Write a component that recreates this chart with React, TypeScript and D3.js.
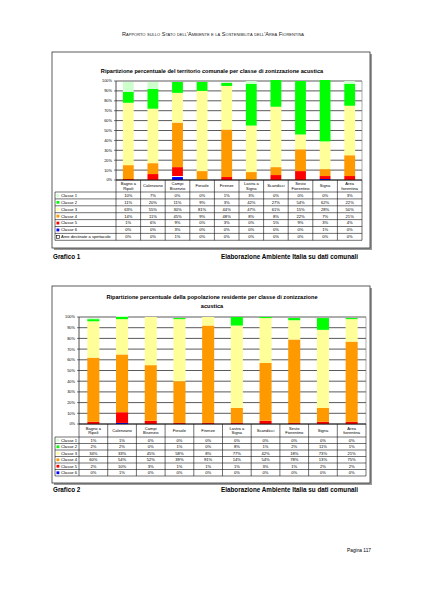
import { useRef, useEffect } from "react";
import * as d3 from "d3";

// chart 1: territory share per acoustic class
const categories = [
    ["Bagno a", "Ripoli"], ["Calenzano"], ["Campi", "Bisenzio"], ["Fiesole"], ["Firenze"],
    ["Lastra a", "Signa"], ["Scandicci"], ["Sesto", "Fiorentino"], ["Signa"], ["Area", "fiorentina"]
];

const seriesNames1 = ["Classe 1", "Classe 2", "Classe 3", "Classe 4", "Classe 5", "Classe 6", "Aree destinate a spettacolo"];
const territorio: number[][] = [
    [10, 7, 0, 0, 1, 3, 0, 0, 0, 3],
    [11, 20, 11, 9, 3, 42, 27, 54, 62, 22],
    [63, 55, 30, 81, 44, 47, 61, 15, 28, 50],
    [14, 11, 45, 9, 48, 8, 8, 22, 7, 21],
    [1, 6, 9, 0, 3, 0, 5, 9, 3, 4],
    [0, 0, 3, 0, 0, 0, 0, 0, 1, 0],
    [0, 0, 1, 0, 0, 0, 0, 0, 0, 0]
];

// chart 2: resident population share per acoustic class
const seriesNames2 = ["Classe 1", "Classe 2", "Classe 3", "Classe 4", "Classe 5", "Classe 6"];
const popolazione: number[][] = [
    [1, 1, 0, 0, 0, 0, 0, 0, 0, 0],
    [2, 2, 0, 1, 0, 8, 1, 2, 11, 1],
    [34, 33, 45, 58, 8, 77, 42, 18, 73, 21],
    [60, 54, 52, 39, 91, 14, 54, 78, 13, 75],
    [2, 10, 3, 1, 1, 1, 3, 1, 2, 2],
    [0, 1, 0, 0, 0, 0, 0, 0, 0, 0]
];

const yTicks = [0, 10, 20, 30, 40, 50, 60, 70, 80, 90, 100];

const classColors: Record<string, string> = {
    "Classe 1": "#ccffcc",
    "Classe 2": "#00ff00",
    "Classe 3": "#ffff99",
    "Classe 4": "#ff9900",
    "Classe 5": "#ff0000",
    "Classe 6": "#0000ff",
    "Aree destinate a spettacolo": "#ffffff"
};

// bottom-to-top stacking order
const stackOrder = ["Classe 6", "Aree destinate a spettacolo", "Classe 5", "Classe 4", "Classe 3", "Classe 2", "Classe 1"];

const FONT = "'Liberation Sans', Arial, sans-serif";

type Layout = {
    box: [number, number, number, number];
    titleLines: string[];
    titleY: number;
    plot: { left: number, right: number, top: number, bottom: number };
    tableLeft: number;
    headerBottom: number;
    rowH: number;
    barRatio: number;
    caption: string;
    captionY: number;
};

function drawChart(
    root: d3.Selection<SVGGElement, unknown, null, undefined>,
    names: string[],
    values: number[][],
    L: Layout
) {
    const [bx, by, bw, bh] = L.box;
    // drop shadow + frame
    root.append("rect").attr("x", bx + 2).attr("y", by + 2).attr("width", bw).attr("height", bh).attr("fill", "#9a9a9a");
    root.append("rect").attr("x", bx).attr("y", by).attr("width", bw).attr("height", bh)
        .attr("fill", "#fff").attr("stroke", "#333").attr("stroke-width", 0.8);

    root.append("g").selectAll("text").data(L.titleLines).join("text")
        .attr("x", bx + bw / 2 + 1)
        .attr("y", (d, i) => L.titleY + i * 9)
        .attr("text-anchor", "middle")
        .attr("font-family", FONT)
        .attr("font-weight", "bold")
        .attr("font-size", 5.6)
        .text(d => d);

    const { left, right, top, bottom } = L.plot;
    const x = d3.scaleBand<number>().domain(d3.range(categories.length)).range([left, right]);
    const y = d3.scaleLinear().domain([0, 100]).range([bottom, top]);
    const bw2 = x.bandwidth() * L.barRatio;

    // gridlines
    root.append("g").selectAll("line").data(yTicks).join("line")
        .attr("x1", left).attr("x2", right)
        .attr("y1", d => y(d)).attr("y2", d => y(d))
        .attr("stroke", "#5a5a5a").attr("stroke-width", 1);

    // stacked bars
    const rows = d3.range(categories.length).map(i => {
        const r: Record<string, number> = {};
        names.forEach((n, k) => { r[n] = values[k][i]; });
        return r;
    });
    const keys = stackOrder.filter(k => names.includes(k));
    const stacked = d3.stack<Record<string, number>>().keys(keys)(rows);

    root.append("g").selectAll("g").data(stacked).join("g")
        .attr("fill", s => classColors[s.key])
        .selectAll("rect").data(s => s).join("rect")
        .attr("x", (d, i) => (x(i) as number) + (x.bandwidth() - bw2) / 2)
        .attr("width", bw2)
        .attr("y", d => y(d[1]))
        .attr("height", d => Math.max(0, y(d[0]) - y(d[1])));

    // y axis
    root.append("line").attr("x1", left).attr("x2", left).attr("y1", top).attr("y2", bottom)
        .attr("stroke", "#222").attr("stroke-width", 0.8);
    root.append("line").attr("x1", right).attr("x2", right).attr("y1", top).attr("y2", bottom)
        .attr("stroke", "#777").attr("stroke-width", 0.6);
    const ay = root.append("g");
    ay.selectAll("line").data(yTicks).join("line")
        .attr("x1", left - 2).attr("x2", left)
        .attr("y1", d => y(d)).attr("y2", d => y(d))
        .attr("stroke", "#222").attr("stroke-width", 0.6);
    ay.selectAll("text").data(yTicks).join("text")
        .attr("x", left - 4).attr("y", d => y(d) + 1.4)
        .attr("text-anchor", "end")
        .attr("font-family", FONT).attr("font-size", 3.9)
        .text(d => d + "%");

    // data table
    const tb = root.append("g").attr("font-family", FONT).attr("font-size", 4.1);
    const tableBottom = L.headerBottom + names.length * L.rowH;
    const stroke = "#111";
    // header row
    tb.append("line").attr("x1", left).attr("x2", right).attr("y1", bottom).attr("y2", bottom)
        .attr("stroke", stroke).attr("stroke-width", 0.8);
    d3.range(categories.length + 1).forEach(i => {
        const xx = i === categories.length ? right : (x(i) as number);
        tb.append("line").attr("x1", xx).attr("x2", xx).attr("y1", bottom).attr("y2", tableBottom)
            .attr("stroke", stroke).attr("stroke-width", 0.6);
    });
    tb.append("line").attr("x1", L.tableLeft).attr("x2", L.tableLeft).attr("y1", L.headerBottom).attr("y2", tableBottom)
        .attr("stroke", stroke).attr("stroke-width", 0.6);
    d3.range(names.length + 1).forEach(k => {
        const yy = L.headerBottom + k * L.rowH;
        tb.append("line").attr("x1", L.tableLeft).attr("x2", right).attr("y1", yy).attr("y2", yy)
            .attr("stroke", stroke).attr("stroke-width", 0.6);
    });
    categories.forEach((lines, i) => {
        const cx = (x(i) as number) + x.bandwidth() / 2;
        const mid = (bottom + L.headerBottom) / 2;
        lines.forEach((t, j) => {
            tb.append("text").attr("x", cx)
                .attr("y", mid + 1.4 + (j - (lines.length - 1) / 2) * 4.4)
                .attr("text-anchor", "middle").text(t);
        });
    });
    names.forEach((n, k) => {
        const yy = L.headerBottom + k * L.rowH;
        const isAree = n.startsWith("Aree");
        tb.append("rect").attr("x", L.tableLeft + 1.5).attr("y", yy + L.rowH / 2 - 1.4)
            .attr("width", 2.8).attr("height", 2.8)
            .attr("fill", classColors[n])
            .attr("stroke", isAree ? "#000" : "none").attr("stroke-width", 0.6);
        tb.append("text").attr("x", L.tableLeft + 6).attr("y", yy + L.rowH / 2 + 1.4).text(n);
        values[k].forEach((v, i) => {
            tb.append("text").attr("x", (x(i) as number) + x.bandwidth() / 2)
                .attr("y", yy + L.rowH / 2 + 1.4)
                .attr("text-anchor", "middle").text(v + "%");
        });
    });

    // captions under the frame
    const cap = root.append("g").attr("font-family", FONT).attr("font-weight", "bold").attr("font-size", 6.3);
    cap.append("text").attr("x", bx + 1).attr("y", L.captionY).text(L.caption);
    cap.append("text").attr("x", 358).attr("y", L.captionY).attr("text-anchor", "end")
        .text("Elaborazione Ambiente Italia su dati comunali");
}

export default function App() {
    const svgRef = useRef<SVGSVGElement>(null);

    useEffect(() => {
        const svgEl = d3.select(svgRef.current as SVGSVGElement);
        svgEl.selectAll("*").remove();
        const g = svgEl.append("g");

        g.append("rect").attr("width", 424).attr("height", 599).attr("fill", "#fff");

        g.append("text")
            .attr("x", 213).attr("y", 36)
            .attr("text-anchor", "middle")
            .attr("font-family", FONT).attr("font-size", 5.6)
            .attr("fill", "#222")
            .style("font-variant", "small-caps")
            .text("Rapporto sullo Stato dell'Ambiente e la Sostenibilità dell'Area Fiorentina");

        drawChart(g.append("g"), seriesNames1, territorio, {
            box: [52, 52, 318, 196],
            titleLines: ["Ripartizione percentuale del territorio comunale per classe di zonizzazione acustica"],
            titleY: 73,
            plot: { left: 116, right: 362, top: 81, bottom: 180 },
            tableLeft: 55,
            headerBottom: 192,
            rowH: 6.9,
            barRatio: 0.44,
            caption: "Grafico 1",
            captionY: 259
        });

        drawChart(g.append("g"), seriesNames2, popolazione, {
            box: [52, 286, 318, 197],
            titleLines: ["Ripartizione percentuale della popolazione residente per classe di zonizzazione", "acustica"],
            titleY: 299,
            plot: { left: 79, right: 366, top: 317, bottom: 424 },
            tableLeft: 55,
            headerBottom: 437,
            rowH: 6.5,
            barRatio: 0.42,
            caption: "Grafico 2",
            captionY: 492
        });

        g.append("text")
            .attr("x", 371).attr("y", 552)
            .attr("text-anchor", "end")
            .attr("font-family", FONT).attr("font-size", 4.8)
            .text("Pagina 117");
    }, []);

    return <svg ref={svgRef} width={424} height={599}
        style={{ position: "absolute", left: 0, top: 0, display: "block" }} />;
}
